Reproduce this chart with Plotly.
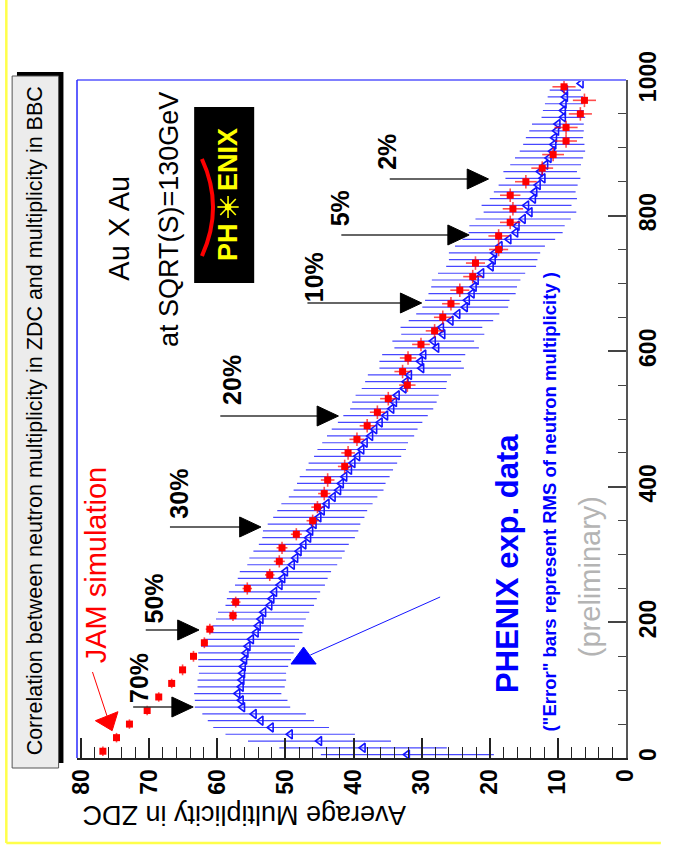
import plotly.graph_objects as go

# ---------------------------------------------------------------------------
# PHENIX Au+Au 130 GeV: mean ZDC neutron multiplicity vs BBC multiplicity
# ---------------------------------------------------------------------------
bbc_data = [5, 15, 25, 35, 45, 55, 65, 75, 85, 95,
            105, 115, 125, 135, 145, 155, 165, 175, 185, 195,
            205, 215, 225, 235, 245, 255, 265, 275, 285, 295,
            305, 315, 325, 335, 345, 355, 365, 375, 385, 395,
            405, 415, 425, 435, 445, 455, 465, 475, 485, 495,
            505, 515, 525, 535, 545, 555, 565, 575, 585, 595,
            605, 615, 625, 635, 645, 655, 665, 675, 685, 695,
            705, 715, 725, 735, 745, 755, 765, 775, 785, 795,
            805, 815, 825, 835, 845, 855, 865, 875, 885, 895,
            905, 915, 925, 935, 945, 955, 965, 975, 985, 995]
zdc_data = [32.1, 38.6, 45.0, 49.3, 52.1, 53.6, 54.6, 56.3, 56.5, 57.0,
            56.5, 56.4, 56.3, 56.2, 56.0, 55.8, 55.5, 55.0, 54.3, 54.0,
            53.6, 53.2, 52.3, 52.0, 51.6, 50.8, 50.4, 50.0, 49.0, 48.5,
            48.0, 47.3, 46.6, 46.3, 45.8, 45.1, 44.6, 43.9, 43.0, 42.2,
            41.8, 41.3, 40.6, 40.1, 39.4, 38.8, 38.3, 37.5, 36.9, 36.1,
            35.3, 34.4, 34.0, 33.6, 32.6, 32.3, 31.8, 30.0, 30.2, 29.7,
            27.8, 28.3, 26.9, 27.1, 25.7, 24.7, 23.6, 23.3, 22.6, 22.3,
            22.0, 21.2, 19.8, 19.5, 19.3, 18.5, 17.2, 16.2, 16.0, 15.1,
            14.1, 14.6, 13.6, 13.4, 12.9, 12.2, 12.6, 11.8, 11.3, 10.8,
            10.6, 10.5, 10.2, 10.0, 9.2, 9.2, 9.1, 8.9, 8.9, 6.6]
# RMS of the neutron multiplicity in each BBC bin
zdc_rms = [12.7, 12.3, 10.5, 9.5, 8.5, 7.8, 7.6, 7.0, 6.8, 6.4,
           6.4, 6.5, 6.4, 6.6, 6.8, 7.0, 6.9, 7.0, 6.8, 6.7,
           6.6, 6.7, 6.5, 6.6, 6.7, 6.6, 6.6, 6.7, 6.6, 6.8,
           6.7, 6.6, 6.8, 7.0, 6.8, 6.7, 6.6, 6.7, 6.5, 6.6,
           6.5, 6.6, 6.4, 6.5, 6.4, 6.5, 6.3, 6.4, 6.3, 6.2,
           6.2, 6.1, 6.2, 6.1, 6.2, 6.0, 6.1, 6.2, 6.0, 6.1,
           6.2, 6.0, 6.1, 6.0, 6.2, 6.1, 6.3, 6.2, 6.4, 6.3,
           6.5, 6.4, 6.6, 6.5, 6.7, 6.6, 6.8, 6.9, 7.0, 7.0,
           6.8, 6.6, 6.4, 6.0, 5.8, 5.5, 5.4, 5.2, 5.0, 4.8,
           4.5, 4.2, 4.0, 3.8, 3.2, 3.0, 2.8, 2.6, 2.3, 0.0]

# JAM simulation
bbc_jam = [10, 30, 50, 70, 90, 110, 130, 150, 170, 190,
           210, 230, 250, 270, 290, 310, 330, 350, 370, 390,
           410, 430, 450, 470, 490, 510, 530, 550, 570, 590,
           610, 630, 650, 670, 690, 710, 730, 750, 770, 790,
           810, 830, 850, 870, 890, 910, 930, 950, 970, 990]
zdc_jam = [76.8, 74.8, 72.9, 70.3, 68.6, 66.7, 65.1, 63.5, 61.9, 61.1,
           57.7, 57.3, 55.6, 52.3, 50.9, 50.5, 48.4, 46.0, 45.3, 44.3,
           43.8, 41.3, 40.8, 39.5, 38.0, 36.5, 34.9, 32.1, 32.8, 32.0,
           30.1, 28.1, 26.9, 25.7, 24.4, 22.5, 22.1, 18.7, 18.7, 17.0,
           16.6, 17.0, 14.7, 12.3, 10.7, 8.8, 8.8, 6.7, 6.1, 9.1]
zdc_jam_err = [0.3, 0.3, 0.3, 0.4, 0.4, 0.4, 0.5, 0.5, 0.5, 0.6,
               0.6, 0.7, 0.7, 0.7, 0.8, 0.8, 0.8, 0.9, 0.9, 0.9,
               1.0, 1.0, 1.0, 1.1, 1.1, 1.1, 1.2, 1.2, 1.2, 1.2,
               1.3, 1.3, 1.3, 1.3, 1.4, 1.4, 1.4, 1.4, 1.5, 1.5,
               1.5, 1.5, 1.6, 1.6, 1.6, 1.6, 1.7, 1.7, 1.7, 1.7]
bbc_jam_err = [7, 7, 7, 7, 7, 7, 8, 8, 8, 8,
               8, 8, 9, 9, 9, 9, 9, 9, 9, 10,
               10, 10, 10, 10, 10, 10, 10, 10, 10, 10,
               10, 10, 10, 10, 10, 10, 10, 10, 10, 10,
               10, 10, 10, 10, 10, 10, 10, 10, 10, 10]

# centrality labels: text, arrow tail (px), arrow tip (px), label centre (px)
cent_labels = ["70%", "50%", "30%", "20%", "10%", "5%", "2%"]
cent_tail = [(135, 707), (148, 630), (173, 527), (225, 416), (315, 303), (350, 235), (400, 179)]
cent_tip = [(197, 707), (203, 630), (267, 527), (347, 416), (433, 303), (482, 235), (502, 179)]
cent_text = [(141, 678), (157, 598), (182, 494), (237, 380), (322, 277), (349, 208), (397, 152)]

# ---------------------------------------------------------------------------
W, H = 673, 853
ML, MR, MT, MB = 77, 29, 80, 95
PW, PH = W - ML - MR, H - MT - MB
FONT = "Arial, Liberation Sans, sans-serif"


def px(x):
    return (x - ML) / PW


def py(y):
    return (H - MB - y) / PH


def path(points, close=True):
    s = "M " + " L ".join(f"{px(a):.5f},{py(b):.5f}" for a, b in points)
    return s + (" Z" if close else "")


def label(x, y, text, size, color="black", bold=False, angle=-90):
    font = dict(family=FONT, size=size, color=color)
    if bold:
        font["weight"] = "bold"
    return dict(xref="paper", yref="paper", x=px(x), y=py(y), xanchor="center",
                yanchor="middle", showarrow=False, textangle=angle, text=text, font=font)


fig = go.Figure()

fig.add_trace(go.Scatter(
    x=zdc_data, y=bbc_data, mode="markers", name="PHENIX",
    marker=dict(symbol="triangle-left-open", size=8, color="#1414ff",
                line=dict(width=1.6, color="#1414ff")),
    error_x=dict(type="data", array=zdc_rms, color="rgba(25,25,255,0.8)",
                 thickness=1.2, width=0),
))
fig.add_trace(go.Scatter(
    x=zdc_jam, y=bbc_jam, mode="markers", name="JAM",
    marker=dict(symbol="square", size=7, color="#ff0000"),
    error_x=dict(type="data", array=zdc_jam_err, color="rgba(255,0,0,0.7)",
                 thickness=1.6, width=0),
    error_y=dict(type="data", array=bbc_jam_err, color="rgba(255,0,0,0.7)",
                 thickness=1.6, width=0),
))

shapes = []
annotations = []

# outer yellow border
shapes.append(dict(type="line", xref="paper", yref="paper", x0=px(4), y0=py(-5),
                   x1=px(4), y1=py(843), line=dict(color="#ffff4a", width=2.5)))
shapes.append(dict(type="line", xref="paper", yref="paper", x0=px(4), y0=py(843),
                   x1=px(680), y1=py(843), line=dict(color="#ffff4a", width=2.5)))

# frame edges (top / left)
shapes.append(dict(type="line", xref="paper", yref="paper", x0=0, y0=1, x1=1, y1=1,
                   line=dict(color="#8080ff", width=2)))
shapes.append(dict(type="line", xref="paper", yref="paper", x0=0, y0=0, x1=0, y1=1,
                   line=dict(color="#2a2aff", width=1.5)))

# title box with shadow
shapes.append(dict(type="rect", xref="paper", yref="paper", x0=px(15), y0=py(763),
                   x1=px(63), y1=py(72), fillcolor="black", line=dict(width=0)))
shapes.append(dict(type="rect", xref="paper", yref="paper", x0=px(10), y0=py(768),
                   x1=px(58), y1=py(76), fillcolor="#ececec",
                   line=dict(color="#555555", width=1)))
annotations.append(label(34, 421,
                         "Correlation between neutron multiplicity in ZDC and multiplicity in BBC",
                         21.5))

# axis caption
annotations.append(label(250, 815, "Average Multiplicity in ZDC", 27, angle=180))

# PHENIX logo
shapes.append(dict(type="rect", xref="paper", yref="paper", x0=px(198), y0=py(283),
                   x1=px(260), y1=py(107), fillcolor="black", line=dict(width=0)))
shapes.append(dict(type="path", xref="paper", yref="paper",
                   path=f"M {px(206):.5f},{py(159):.5f} Q {px(229):.5f},{py(207):.5f} {px(206):.5f},{py(256):.5f}",
                   line=dict(color="#ff0000", width=4)))
cx, cy = 233, 207
for dx, dy in [(11, 0), (8, 8), (0, 11), (-8, 8)]:
    shapes.append(dict(type="line", xref="paper", yref="paper",
                       x0=px(cx - dx), y0=py(cy - dy), x1=px(cx + dx), y1=py(cy + dy),
                       line=dict(color="#ffff00", width=1.6)))
shapes.append(dict(type="circle", xref="paper", yref="paper",
                   x0=px(cx - 3.5), y0=py(cy + 3.5), x1=px(cx + 3.5), y1=py(cy - 3.5),
                   fillcolor="#ffff00", line=dict(width=0)))
annotations.append(label(233, 160, "ENIX", 27, "#ffff00", bold=True))
annotations.append(label(233, 242, "PH", 27, "#ffff00", bold=True))

# collision system
annotations.append(label(120, 228, "Au X Au", 29))
annotations.append(label(172, 219, "at SQRT(S)=130GeV", 27))

# centrality arrows
for lab, (tx, ty), (hx, hy), (lx, ly) in zip(cent_labels, cent_tail, cent_tip, cent_text):
    shapes.append(dict(type="line", xref="paper", yref="paper", x0=px(tx), y0=py(ty),
                       x1=px(hx - 18), y1=py(hy), line=dict(color="#333333", width=1.5)))
    shapes.append(dict(type="path", xref="paper", yref="paper",
                       path=path([(hx - 22, hy - 10), (hx, hy), (hx - 22, hy + 10)]),
                       fillcolor="black", line=dict(color="black", width=1)))
    annotations.append(label(lx, ly, lab, 25, bold=True))

# JAM label and pointer
annotations.append(label(97, 565, "JAM simulation", 29, "#ff0000"))
shapes.append(dict(type="line", xref="paper", yref="paper", x0=px(93), y0=py(672),
                   x1=px(108), y1=py(716), line=dict(color="#ff0000", width=1)))
shapes.append(dict(type="path", xref="paper", yref="paper",
                   path=path([(96, 720.7), (119.3, 711.7), (113.3, 730.7)]),
                   fillcolor="#ff0000", line=dict(color="#ff0000", width=1)))

# PHENIX data label and pointer
shapes.append(dict(type="line", xref="paper", yref="paper", x0=px(452), y0=py(597),
                   x1=px(318), y1=py(655), line=dict(color="#1414ff", width=1)))
shapes.append(dict(type="path", xref="paper", yref="paper",
                   path=path([(298, 664), (324, 664), (311, 647)]),
                   fillcolor="#0000ff", line=dict(color="#0000ff", width=1)))
annotations.append(label(521, 563, "PHENIX exp. data", 31, "#0000ff", bold=True))
annotations.append(label(564, 502, '("Error" bars represent RMS of neutron multiplicity )',
                         18.5, "#0000ff", bold=True))
annotations.append(label(607, 577, "(preliminary)", 29, "#b4b4b4"))

tickfont = dict(family=FONT, size=23, color="black", weight="bold")
fig.update_layout(
    width=W, height=H,
    margin=dict(l=ML, r=MR, t=MT, b=MB, pad=0),
    paper_bgcolor="white", plot_bgcolor="white",
    showlegend=False,
    shapes=shapes, annotations=annotations,
    xaxis=dict(range=[80.6, 0], tick0=0, dtick=10, ticks="inside", ticklen=20,
               tickwidth=1.5, tickcolor="#222222", tickangle=-90, tickfont=tickfont,
               minor=dict(dtick=2, ticks="inside", ticklen=11, tickwidth=1.2,
                          tickcolor="#222222"),
               showline=True, linecolor="#222222", linewidth=2,
               showgrid=False, zeroline=False),
    yaxis=dict(range=[0, 1000], side="right", tick0=0, dtick=200, ticks="inside",
               ticklen=18, tickwidth=1.5, tickcolor="#444444", tickangle=-90,
               tickfont=tickfont,
               minor=dict(dtick=50, ticks="inside", ticklen=8, tickwidth=1.2,
                          tickcolor="#444444"),
               showline=True, linecolor="#555555", linewidth=2,
               showgrid=False, zeroline=False),
)

fig.write_html("out.html")
